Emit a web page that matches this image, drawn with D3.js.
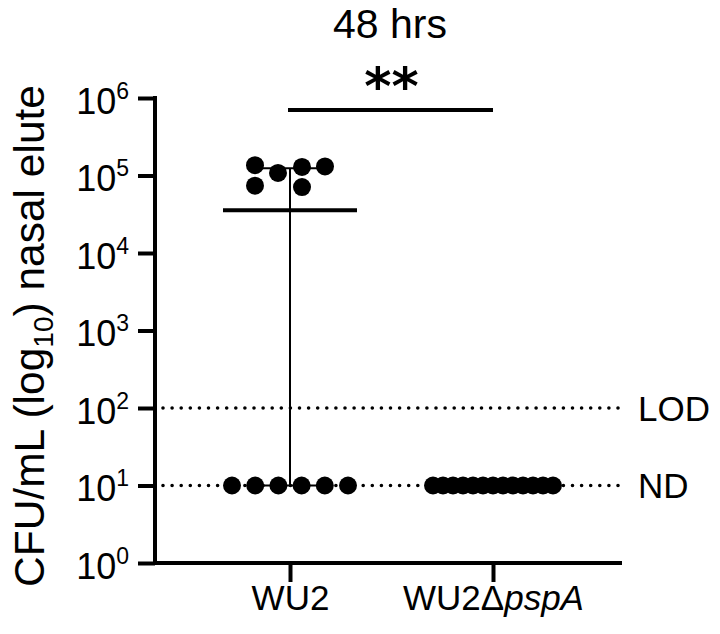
<!DOCTYPE html>
<html>
<head>
<meta charset="utf-8">
<script src="https://cdn.jsdelivr.net/npm/d3@7"></script>
<style>
  body { margin: 0; background: #fff; }
  svg { display: block; font-family: "Liberation Sans", Arial, Helvetica, sans-serif; }
</style>
</head>
<body>
<svg id="chart" width="720" height="634"></svg>
<script>
// ---- data ----
const categories = ["WU2", "WU2ΔpspA"];
const wu2Values = [136000, 108000, 129000, 131000, 74000, 71000, 10, 10, 10, 10, 10, 10];
const pspAValues = [10, 10, 10, 10, 10, 10, 10, 10, 10, 10, 10, 10, 10];
const yTickExponents = [0, 1, 2, 3, 4, 5, 6];
const refLines = [{ value: 100, label: "LOD" }, { value: 10, label: "ND" }];
const titleText = "48 hrs";
const sigText = "**";

// ---- layout ----
const svg = d3.select("#chart");
const axisLeftX = 155, axisRightX = 622;
const yTop = 98, yBottom = 563;

const y = d3.scaleLog().domain([1, 1e6]).range([yBottom, yTop]);
const x = d3.scalePoint().domain(categories).range([290, 493]);

// GraphPad-style quartiles
function quantileGP(sorted, p) {
  const n = sorted.length;
  const pos = p * (n + 1);
  const lo = Math.floor(pos), hi = Math.ceil(pos);
  if (lo < 1) return sorted[0];
  if (hi > n) return sorted[n - 1];
  return sorted[lo - 1] + (pos - lo) * (sorted[hi - 1] - sorted[lo - 1]);
}

// reference dotted lines
refLines.forEach(r => {
  svg.append("line")
    .attr("x1", axisLeftX + 8).attr("x2", axisRightX)
    .attr("y1", y(r.value)).attr("y2", y(r.value))
    .attr("stroke", "#000").attr("stroke-width", 3.6)
    .attr("stroke-linecap", "round").attr("stroke-dasharray", "0 9.1");
  svg.append("text")
    .attr("x", 638).attr("y", y(r.value) + 12.5)
    .attr("font-size", 35).attr("fill", "#000")
    .text(r.label);
});

// y axis
const yAxis = d3.axisLeft(y).tickValues(yTickExponents.map(e => Math.pow(10, e)))
  .tickSize(17).tickSizeOuter(0).tickFormat("");
const gy = svg.append("g").attr("transform", `translate(${axisLeftX},0)`).call(yAxis);
gy.select(".domain").remove();
gy.selectAll(".tick line").attr("stroke", "#000").attr("stroke-width", 4);
gy.selectAll(".tick").each(function(d) {
  const t = d3.select(this).append("text")
    .attr("x", -26).attr("y", 15)
    .attr("text-anchor", "end").attr("fill", "#000")
    .attr("font-size", 36);
  t.append("tspan").text("10");
  t.append("tspan").attr("font-size", 23).attr("dy", -15).text(Math.round(Math.log10(d)));
});
svg.append("line").attr("x1", axisLeftX).attr("x2", axisLeftX)
  .attr("y1", yTop - 2).attr("y2", yBottom + 2)
  .attr("stroke", "#000").attr("stroke-width", 4);

// x axis
svg.append("line").attr("x1", axisLeftX - 2).attr("x2", axisRightX)
  .attr("y1", yBottom).attr("y2", yBottom)
  .attr("stroke", "#000").attr("stroke-width", 4);
const xAxis = d3.axisBottom(x).tickSize(19).tickSizeOuter(0).tickFormat("");
const gx = svg.append("g").attr("transform", `translate(0,${yBottom})`).call(xAxis);
gx.select(".domain").remove();
gx.selectAll(".tick line").attr("stroke", "#000").attr("stroke-width", 4);
gx.selectAll(".tick").each(function(d) {
  const t = d3.select(this).append("text")
    .attr("y", 47).attr("text-anchor", "middle").attr("fill", "#000")
    .attr("font-size", 35);
  if (d === "WU2ΔpspA") {
    t.append("tspan").text("WU2Δ");
    t.append("tspan").attr("font-style", "italic").text("pspA");
  } else {
    t.text(d);
  }
});

// groups
const groups = [
  { cat: categories[0], values: wu2Values },
  { cat: categories[1], values: pspAValues }
];
const r = 9;

groups.forEach(g => {
  const cx = x(g.cat);
  const sorted = g.values.slice().sort((a, b) => a - b);
  const med = d3.median(sorted);
  const q1 = quantileGP(sorted, 0.25), q3 = quantileGP(sorted, 0.75);

  // error bar
  svg.append("line").attr("x1", cx).attr("x2", cx)
    .attr("y1", y(q1)).attr("y2", y(q3))
    .attr("stroke", "#000").attr("stroke-width", 2);
  [q1, q3].forEach(q => {
    svg.append("line").attr("x1", cx - 35).attr("x2", cx + 35)
      .attr("y1", y(q)).attr("y2", y(q))
      .attr("stroke", "#000").attr("stroke-width", 2);
  });

  // points: group by rows of similar value (simple swarm)
  const pts = [];
  const bins = d3.groups(g.values.map((v, i) => ({ v, i })), d => Math.round(Math.log10(d.v) * 3));
  bins.forEach(([, arr]) => {
    if (arr.length === g.values.length && arr.length > 8) {
      const step = 10;
      arr.forEach((d, k) => pts.push({ v: d.v, dx: (k - (arr.length - 1) / 2) * step }));
    } else if (arr.length <= 6 && Math.log10(arr[0].v) < 2) {
      const step = 23.2;
      arr.forEach((d, k) => pts.push({ v: d.v, dx: (k - (arr.length - 1) / 2) * step }));
    } else {
      const offs = [-35, -12, 12, 35, -35, 12];
      arr.forEach((d, k) => pts.push({ v: d.v, dx: offs[k % offs.length] }));
    }
  });
  svg.selectAll(null).data(pts).enter().append("circle")
    .attr("cx", d => cx + d.dx).attr("cy", d => y(d.v))
    .attr("r", r).attr("fill", "#000");

  // median line
  svg.append("line").attr("x1", cx - 67).attr("x2", cx + 67)
    .attr("y1", y(med)).attr("y2", y(med))
    .attr("stroke", "#000").attr("stroke-width", 4);
});

// significance bar
svg.append("line").attr("x1", x(categories[0]) - 2).attr("x2", x(categories[1]))
  .attr("y1", 110).attr("y2", 110)
  .attr("stroke", "#000").attr("stroke-width", 4);
svg.append("text")
  .attr("x", (x(categories[0]) + x(categories[1])) / 2).attr("y", 104)
  .attr("text-anchor", "middle").attr("font-weight", "bold")
  .attr("font-family", "DejaVu Sans")
  .attr("font-size", 52).attr("fill", "#000")
  .text(sigText);

// title
svg.append("text").attr("x", 390).attr("y", 38)
  .attr("text-anchor", "middle").attr("font-size", 41).attr("fill", "#000")
  .text(titleText);

// y axis title
const yt = svg.append("text")
  .attr("transform", `translate(44,${336}) rotate(-90)`)
  .attr("text-anchor", "middle").attr("font-size", 42.5).attr("fill", "#000");
yt.append("tspan").text("CFU/mL (log");
yt.append("tspan").attr("font-size", 28).attr("dy", 9).text("10");
yt.append("tspan").attr("dy", -9).text(") nasal elute");
</script>
</body>
</html>
